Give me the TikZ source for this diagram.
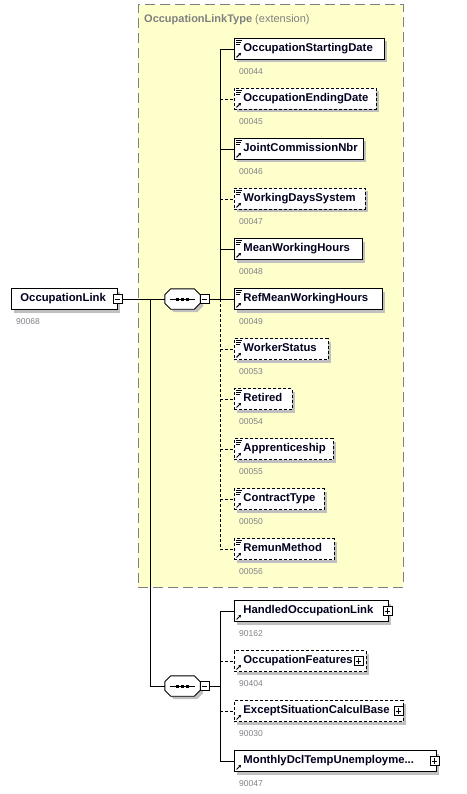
\documentclass[tikz,border=0pt]{standalone}
\usepackage{fontspec}
\setmainfont{Liberation Sans}
\usetikzlibrary{shadows,arrows.meta}
\definecolor{ybg}{RGB}{255,255,204}
\definecolor{yborder}{RGB}{128,128,128}
\definecolor{idgray}{RGB}{128,128,136}
\definecolor{shad}{RGB}{192,192,192}
\definecolor{txt}{RGB}{0,0,30}
\newcommand\elt[2]{\makebox[#1pt][l]{\hspace*{9pt}\rule[-2.8pt]{0pt}{11pt}#2}}
\newcommand\octpath[3]{([shift={(#2+6,#3)}]#1.north west) -- ([shift={(#2-6,#3)}]#1.north east) -- ([shift={(#2,#3+6)}]#1.north east) -- ([shift={(#2,#3-6)}]#1.south east) -- ([shift={(#2-6,#3)}]#1.south east) -- ([shift={(#2+6,#3)}]#1.south west) -- ([shift={(#2,#3-6)}]#1.south west) -- ([shift={(#2,#3+6)}]#1.north west) -- cycle}
\begin{document}
\begin{tikzpicture}[x=1pt,y=-1pt,
  shd/.style={drop shadow={shadow xshift=3pt,shadow yshift=-3pt,fill=shad,opacity=1}},
  elem/.style={draw=black, fill=white, anchor=west, minimum height=21pt, inner sep=0pt,
    line width=0.9pt, text=txt, font=\fontsize{11.3}{13}\selectfont\bfseries, shd},
  opt/.style={elem, dash pattern=on 3pt off 2pt},
  dsh/.style={dash pattern=on 3pt off 2pt},
  idl/.style={anchor=west, inner sep=0pt, text=idgray, font=\fontsize{8.5}{10}\selectfont},
  pm/.style={draw=black, fill=white, minimum size=9pt, inner sep=0pt, line width=0.7pt},
  seqn/.style={rectangle, minimum width=35pt, minimum height=20pt, inner sep=0pt},
  conn/.style={line width=0.9pt},
  ext/.style={draw=yborder, fill=ybg, line width=1pt, dash pattern=on 10pt off 5pt,
    minimum width=265pt, minimum height=582pt, inner sep=0pt}
]
\useasboundingbox (0,0) rectangle (466,794);

% extension container
\node[ext] (ext) at (270.5,296) {};
\node[anchor=west, inner sep=0pt, text=yborder, font=\fontsize{11}{13}\selectfont] (title) at (144,20)
  {\textbf{OccupationLinkType} (extension)};

% root element
\node[elem] (root) at (11,299) {\elt{106}{OccupationLink}};
\node[pm] (rm) at (117.5,299) {};
\draw[line width=0.8pt] ([xshift=2pt]rm.west) -- ([xshift=-2pt]rm.east);
\node[idl] (rid) at (16,322) {90068};

% sequences
\foreach \s/\m/\y in {s1/m1/299, s2/m2/686}{
  \node[seqn] (\s) at (182.5,\y) {};
  \fill[shad] \octpath{\s}{3}{3};
  \draw[line width=0.9pt, fill=white] \octpath{\s}{0}{0};
  \draw[line width=0.8pt] ([xshift=5pt]\s.west) -- ([xshift=-5pt]\s.east);
  \foreach \dx in {-5,0,5} \fill ([shift={(\dx-1.5,-1.5)}]\s.center) rectangle ++(3,3);
  \node[pm] (\m) at (204.5,\y) {};
  \draw[line width=0.8pt] ([xshift=2pt]\m.west) -- ([xshift=-2pt]\m.east);
}

% children of sequence 1
\node[elem] (e0) at (234,49) {\elt{150}{OccupationStartingDate}};
\node[opt]  (e1) at (234,99) {\elt{142}{OccupationEndingDate}};
\node[elem] (e2) at (234,149) {\elt{129}{JointCommissionNbr}};
\node[opt]  (e3) at (234,199) {\elt{131}{WorkingDaysSystem}};
\node[elem] (e4) at (234,249) {\elt{128}{MeanWorkingHours}};
\node[elem] (e5) at (234,299) {\elt{148}{RefMeanWorkingHours}};
\node[opt]  (e6) at (234,349) {\elt{94}{WorkerStatus}};
\node[opt]  (e7) at (234,399) {\elt{58}{Retired}};
\node[opt]  (e8) at (234,449) {\elt{99}{Apprenticeship}};
\node[opt]  (e9) at (234,499) {\elt{90}{ContractType}};
\node[opt]  (e10) at (234,549) {\elt{100}{RemunMethod}};

\node[idl] (i0) at (239,72) {00044};
\node[idl] (i1) at (239,122) {00045};
\node[idl] (i2) at (239,172) {00046};
\node[idl] (i3) at (239,222) {00047};
\node[idl] (i4) at (239,272) {00048};
\node[idl] (i5) at (239,322) {00049};
\node[idl] (i6) at (239,372) {00053};
\node[idl] (i7) at (239,422) {00054};
\node[idl] (i8) at (239,472) {00055};
\node[idl] (i9) at (239,522) {00050};
\node[idl] (i10) at (239,572) {00056};

% children of sequence 2
\node[elem] (f0) at (234,611) {\elt{154}{HandledOccupationLink}};
\node[opt]  (f1) at (234,661) {\elt{132}{OccupationFeatures}};
\node[opt]  (f2) at (234,711) {\elt{169}{ExceptSituationCalculBase}};
\node[elem] (f3) at (234,761) {\elt{202}{MonthlyDclTempUnemployme...}};

\node[idl] (j0) at (239,634) {90162};
\node[idl] (j1) at (239,684) {90404};
\node[idl] (j2) at (239,734) {90030};
\node[idl] (j3) at (239,784) {90047};

% plus boxes
\foreach \n/\x/\y in {p0/387.5/611, p1/358.5/661, p2/398.5/711, p3/434.5/761}{
  \node[pm] (\n) at (\x,\y) {};
  \draw[line width=0.8pt] ([xshift=2pt]\n.west) -- ([xshift=-2pt]\n.east)
                          ([yshift=2pt]\n.south) -- ([yshift=-2pt]\n.north);
}

% icons on element boxes
\foreach \n in {e0,e1,e2,e3,e4,e5,e6,e7,e8,e9,e10}{
  \draw[line width=0.8pt] ([shift={(2,2.5)}]\n.north west) -- ++(6,0)
                          ([shift={(2,4.5)}]\n.north west) -- ++(5,0)
                          ([shift={(2,6.5)}]\n.north west) -- ++(4,0);
}
\foreach \n in {e0,e1,e2,e3,e4,e5,e6,e7,e8,e9,e10,f0,f1,f2,f3}{
  \draw[line width=1pt,-{Stealth[length=2.5pt,width=3pt]}] ([shift={(2.5,-2.5)}]\n.south west) -- ++(4.5,-4.5);
}

% connectors
\coordinate (jr) at (150,299);
\coordinate (b1) at (220,299);
\coordinate (b2) at (220,686);
\draw[conn] (rm.east) -- (s1.west);
\draw[conn] (jr) |- (s2.west);
\draw[conn] (m1.east) -- (e5.west);
\draw[conn] (b1) |- (e0.west);
\draw[conn] (e2.west -| b1) -- (e2.west);
\draw[conn] (e4.west -| b1) -- (e4.west);
\draw[conn,dsh] (e1.west -| b1) -- (e1.west);
\draw[conn,dsh] (e3.west -| b1) -- (e3.west);
\draw[conn,dsh] (b1) |- (e10.west);
\foreach \n in {e6,e7,e8,e9} \draw[conn,dsh] (\n.west -| b1) -- (\n.west);

\draw[conn] (m2.east) -- (b2);
\draw[conn] (b2) |- (f0.west);
\draw[conn] (b2) |- (f3.west);
\draw[conn,dsh] (f1.west -| b2) -- (f1.west);
\draw[conn,dsh] (f2.west -| b2) -- (f2.west);
\end{tikzpicture}
\end{document}
